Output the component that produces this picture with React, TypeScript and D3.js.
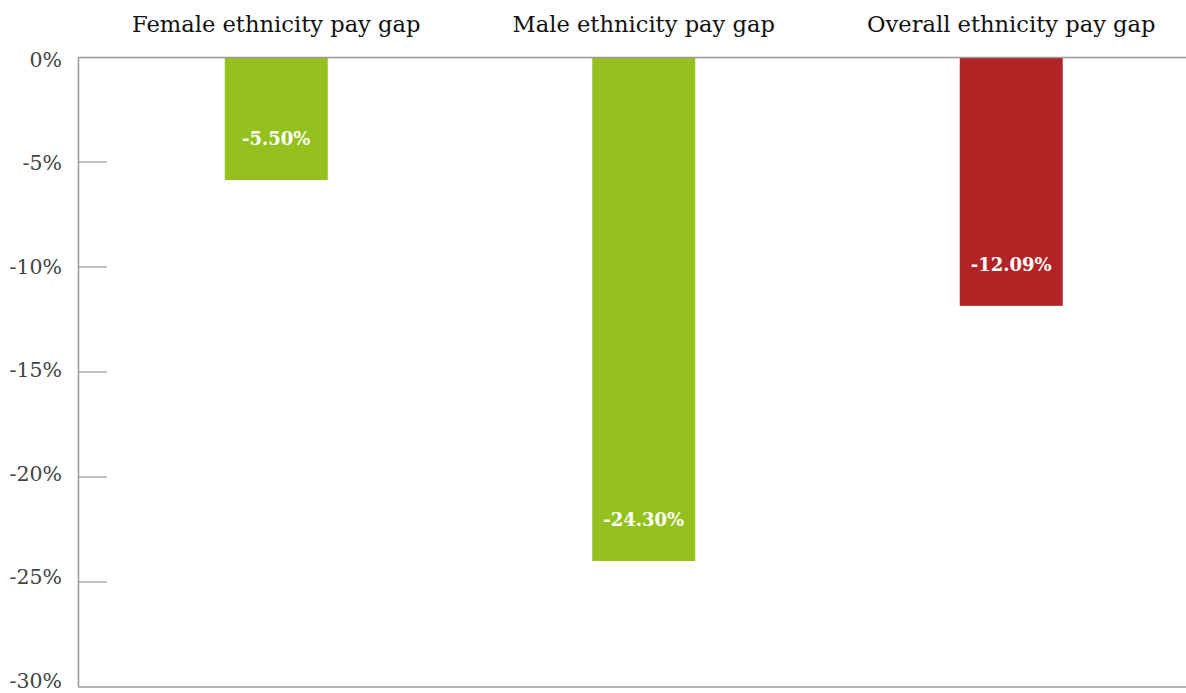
import React from "react";
import * as d3 from "d3";

const categories = ["Female ethnicity pay gap", "Male ethnicity pay gap", "Overall ethnicity pay gap"];
const barValues = [-5.86, -24.0, -11.85];
const barLabels = ["-5.50%", "-24.30%", "-12.09%"];
const barColors = ["#95c11f", "#95c11f", "#b22425"];
const yTicks = [0, -5, -10, -15, -20, -25, -30];

const W = 1186;
const H = 693;

export default function App() {
  const y = d3.scaleLinear().domain([0, -30]).range([57, 687]);
  const yLabel = d3.scaleLinear().domain([0, -30]).range([61, 682]);
  const x = d3.scaleBand<string>().domain(categories).range([92.5, 1195]).paddingInner(0).paddingOuter(0);
  const barW = 103;
  const axisX = 78.5;
  const serif = "'DejaVu Serif', serif";
  return (
    <div style={{ position: "absolute", left: 0, top: 0 }}>
      <svg width={W} height={H} style={{ display: "block" }}>
        <rect width={W} height={H} fill="#fff" />
        {categories.map((c, i) => {
          const cx = (x(c) as number) + x.bandwidth() / 2;
          const y0 = y(0);
          const y1 = y(barValues[i]);
          return (
            <g key={c}>
              <text x={cx} y={32} textAnchor="middle" fontFamily={serif} fontSize={22.6} fill="#111">
                {c}
              </text>
              <rect x={cx - barW / 2} y={y0} width={barW} height={y1 - y0} fill={barColors[i]} />
              <text
                x={cx}
                y={y1 - 40}
                textAnchor="middle"
                dominantBaseline="middle"
                fontFamily={serif}
                fontWeight="bold"
                fontSize={18}
                fill="#fff"
              >
                {barLabels[i]}
              </text>
            </g>
          );
        })}
        <line x1={axisX} x2={W} y1={y(0) + 0.5} y2={y(0) + 0.5} stroke="#999" strokeWidth={1.5} />
        <line x1={axisX} x2={W} y1={y(-30)} y2={y(-30)} stroke="#999" strokeWidth={1.5} />
        <line x1={axisX} x2={axisX} y1={y(0)} y2={y(-30)} stroke="#999" strokeWidth={1.5} />
        {yTicks.map((t) => (
          <g key={t}>
            {t !== 0 && t !== -30 && (
              <line x1={axisX} x2={107} y1={y(t)} y2={y(t)} stroke="#999" strokeWidth={1.2} />
            )}
            <text
              x={62}
              y={yLabel(t)}
              textAnchor="end"
              dominantBaseline="middle"
              fontFamily={serif}
              fontSize={20.5}
              fill="#444"
            >
              {`${t}%`}
            </text>
          </g>
        ))}
      </svg>
    </div>
  );
}
